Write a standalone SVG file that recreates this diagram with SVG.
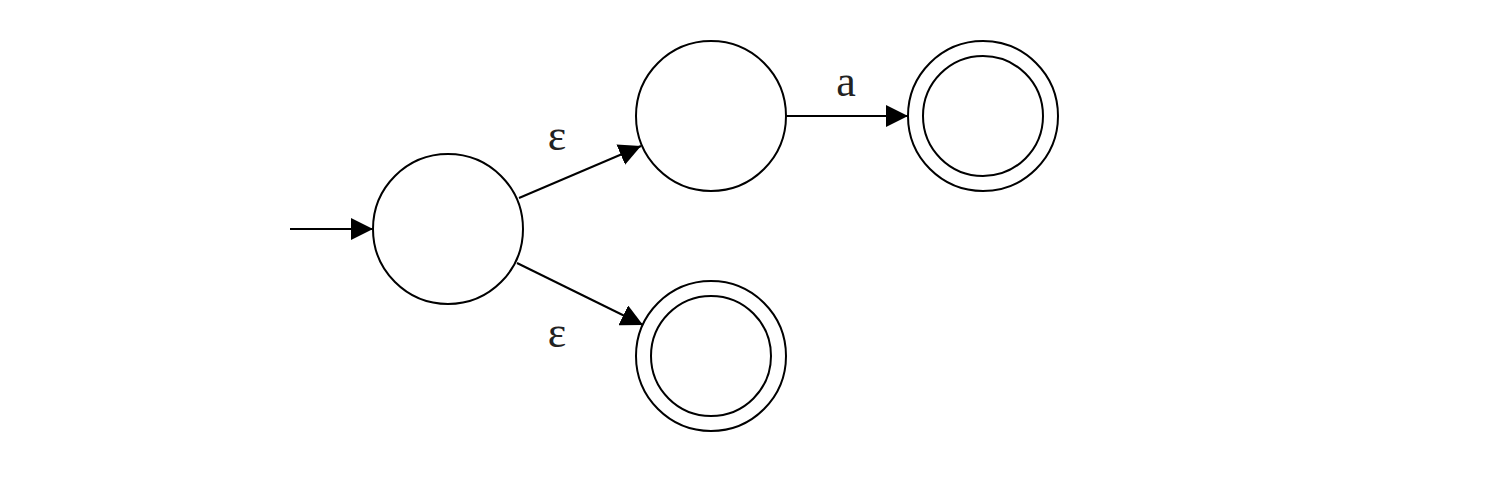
<svg xmlns="http://www.w3.org/2000/svg" width="1490" height="477" viewBox="0 0 1490 477">
<style>
.st{fill:#fff;stroke:#000;stroke-width:2}
.in{fill:none;stroke:#000;stroke-width:2}
.ed{stroke:#000;stroke-width:2;fill:none}
.lb{font-family:"Liberation Serif","Times New Roman",serif;font-size:44px;fill:#222;text-anchor:middle}
</style>
<defs>
<marker id="ah" markerWidth="22" markerHeight="22" refX="22" refY="11" orient="auto" markerUnits="userSpaceOnUse">
<path d="M0,0 L22,11 L0,22 Z" fill="#000"/>
</marker>
</defs>
<rect width="1490" height="477" fill="#fff"/>
<g id="connectors">
<line class="ed" x1="290" y1="229" x2="373" y2="229" marker-end="url(#ah)"/>
<line class="ed" x1="519" y1="198" x2="641" y2="146" marker-end="url(#ah)"/>
<line class="ed" x1="517" y1="263" x2="643" y2="325" marker-end="url(#ah)"/>
<line class="ed" x1="786" y1="116" x2="908" y2="116" marker-end="url(#ah)"/>
<text class="lb" x="557" y="150">ε</text>
<text class="lb" x="557" y="347">ε</text>
<text class="lb" x="846" y="96">a</text>
</g>
<g id="s0"><circle class="st" cx="448" cy="229" r="75"/></g>
<g id="s1"><circle class="st" cx="711" cy="116" r="75"/></g>
<g id="s2"><circle class="st" cx="983" cy="116" r="75"/><circle class="in" cx="983" cy="116" r="60"/></g>
<g id="s3"><circle class="st" cx="711" cy="356" r="75"/><circle class="in" cx="711" cy="356" r="60"/></g>
</svg>
